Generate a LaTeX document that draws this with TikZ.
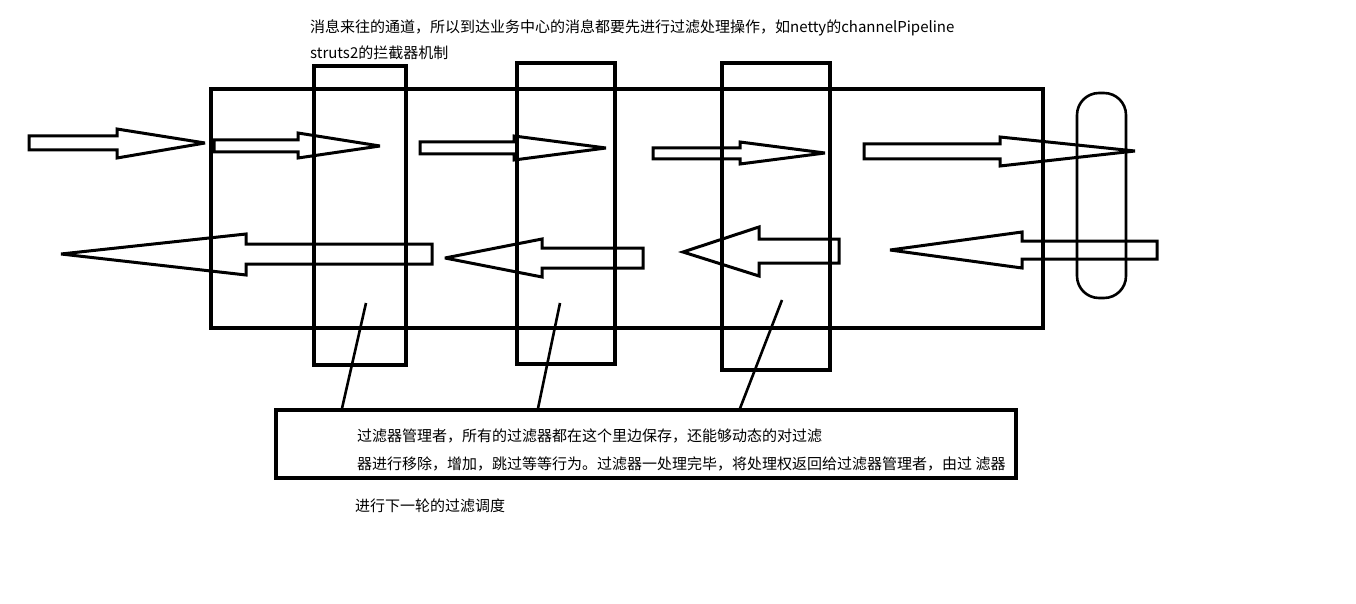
\documentclass[tikz,border=0pt]{standalone}
\usepackage{fontspec}
\setmainfont{Noto Sans CJK SC}
\begin{document}
\begin{tikzpicture}[x=1pt,y=-1pt,
  frame/.style={draw, line width=3.2pt, inner sep=0pt},
  wheel/.style={draw, line width=2.6pt, inner sep=0pt, rounded corners=22pt},
  blockarrow/.style={draw, line width=3pt, line join=miter, miter limit=4},
  link/.style={draw, line width=2.6pt},
  txt/.style={anchor=west, inner sep=0pt, align=left, font=\fontsize{15}{26}\selectfont}]
\useasboundingbox (0,0) rectangle (1356,604);
% boxes
\node[frame, minimum width=832pt, minimum height=239pt] (main) at (627,208.5) {};
\node[frame, minimum width=92pt, minimum height=299pt] (f1) at (360,215.5) {};
\node[frame, minimum width=98pt, minimum height=301pt] (f2) at (566,213.5) {};
\node[frame, minimum width=108pt, minimum height=307pt] (f3) at (776,216.5) {};
\node[wheel, minimum width=49pt, minimum height=205pt] (end) at (1101.5,195.5) {};
\node[frame, minimum width=740pt, minimum height=68pt] (mgr) at (646,444) {};
% top arrows (inbound)
\draw[blockarrow] (29,136) -- (117,136) -- (117,129) -- (205,143) -- (117,158) -- (117,150) -- (29,150) -- cycle;
\draw[blockarrow] (214,140) -- (298,140) -- (298,133) -- (380,146) -- (298,158) -- (298,152) -- (214,152) -- cycle;
\draw[blockarrow] (420,142) -- (514,142) -- (514,136) -- (606,148) -- (514,160) -- (514,154) -- (420,154) -- cycle;
\draw[blockarrow] (653,148) -- (740,148) -- (740,142) -- (825,153) -- (740,164) -- (740,159) -- (653,159) -- cycle;
\draw[blockarrow] (864,144) -- (1000,144) -- (1000,137) -- (1135,151) -- (1000,166) -- (1000,159) -- (864,159) -- cycle;
% bottom arrows (outbound)
\draw[blockarrow] (432,244) -- (246,244) -- (246,234) -- (61,254) -- (246,275) -- (246,264) -- (432,264) -- cycle;
\draw[blockarrow] (643,248) -- (542,248) -- (542,239) -- (445,258) -- (542,277) -- (542,268) -- (643,268) -- cycle;
\draw[blockarrow] (839,239) -- (759,239) -- (759,227) -- (683,252) -- (759,276) -- (759,263) -- (839,263) -- cycle;
\draw[blockarrow] (1157,241) -- (1022,241) -- (1022,232) -- (890,250) -- (1022,268) -- (1022,259) -- (1157,259) -- cycle;
% links from filters to manager
\coordinate (s1) at (366,303);
\coordinate (s2) at (560,303);
\coordinate (s3) at (782,300);
\draw[link] (s1) -- (342,0 |- mgr.north);
\draw[link] (s2) -- (538,0 |- mgr.north);
\draw[link] (s3) -- (740,0 |- mgr.north);
% texts
\node[txt] (t1) at (310,40) {消息来往的通道，所以到达业务中心的消息都要先进行过滤处理操作，如netty的channelPipeline\\struts2的拦截器机制};
\node[txt, font=\fontsize{15}{28}\selectfont] (t2) at (357,450) {过滤器管理者，所有的过滤器都在这个里边保存，还能够动态的对过滤\\器进行移除，增加，跳过等等行为。过滤器一处理完毕，将处理权返回给过滤器管理者，由过 滤器};
\node[txt] (t3) at (355,506) {进行下一轮的过滤调度};
\end{tikzpicture}
\end{document}
